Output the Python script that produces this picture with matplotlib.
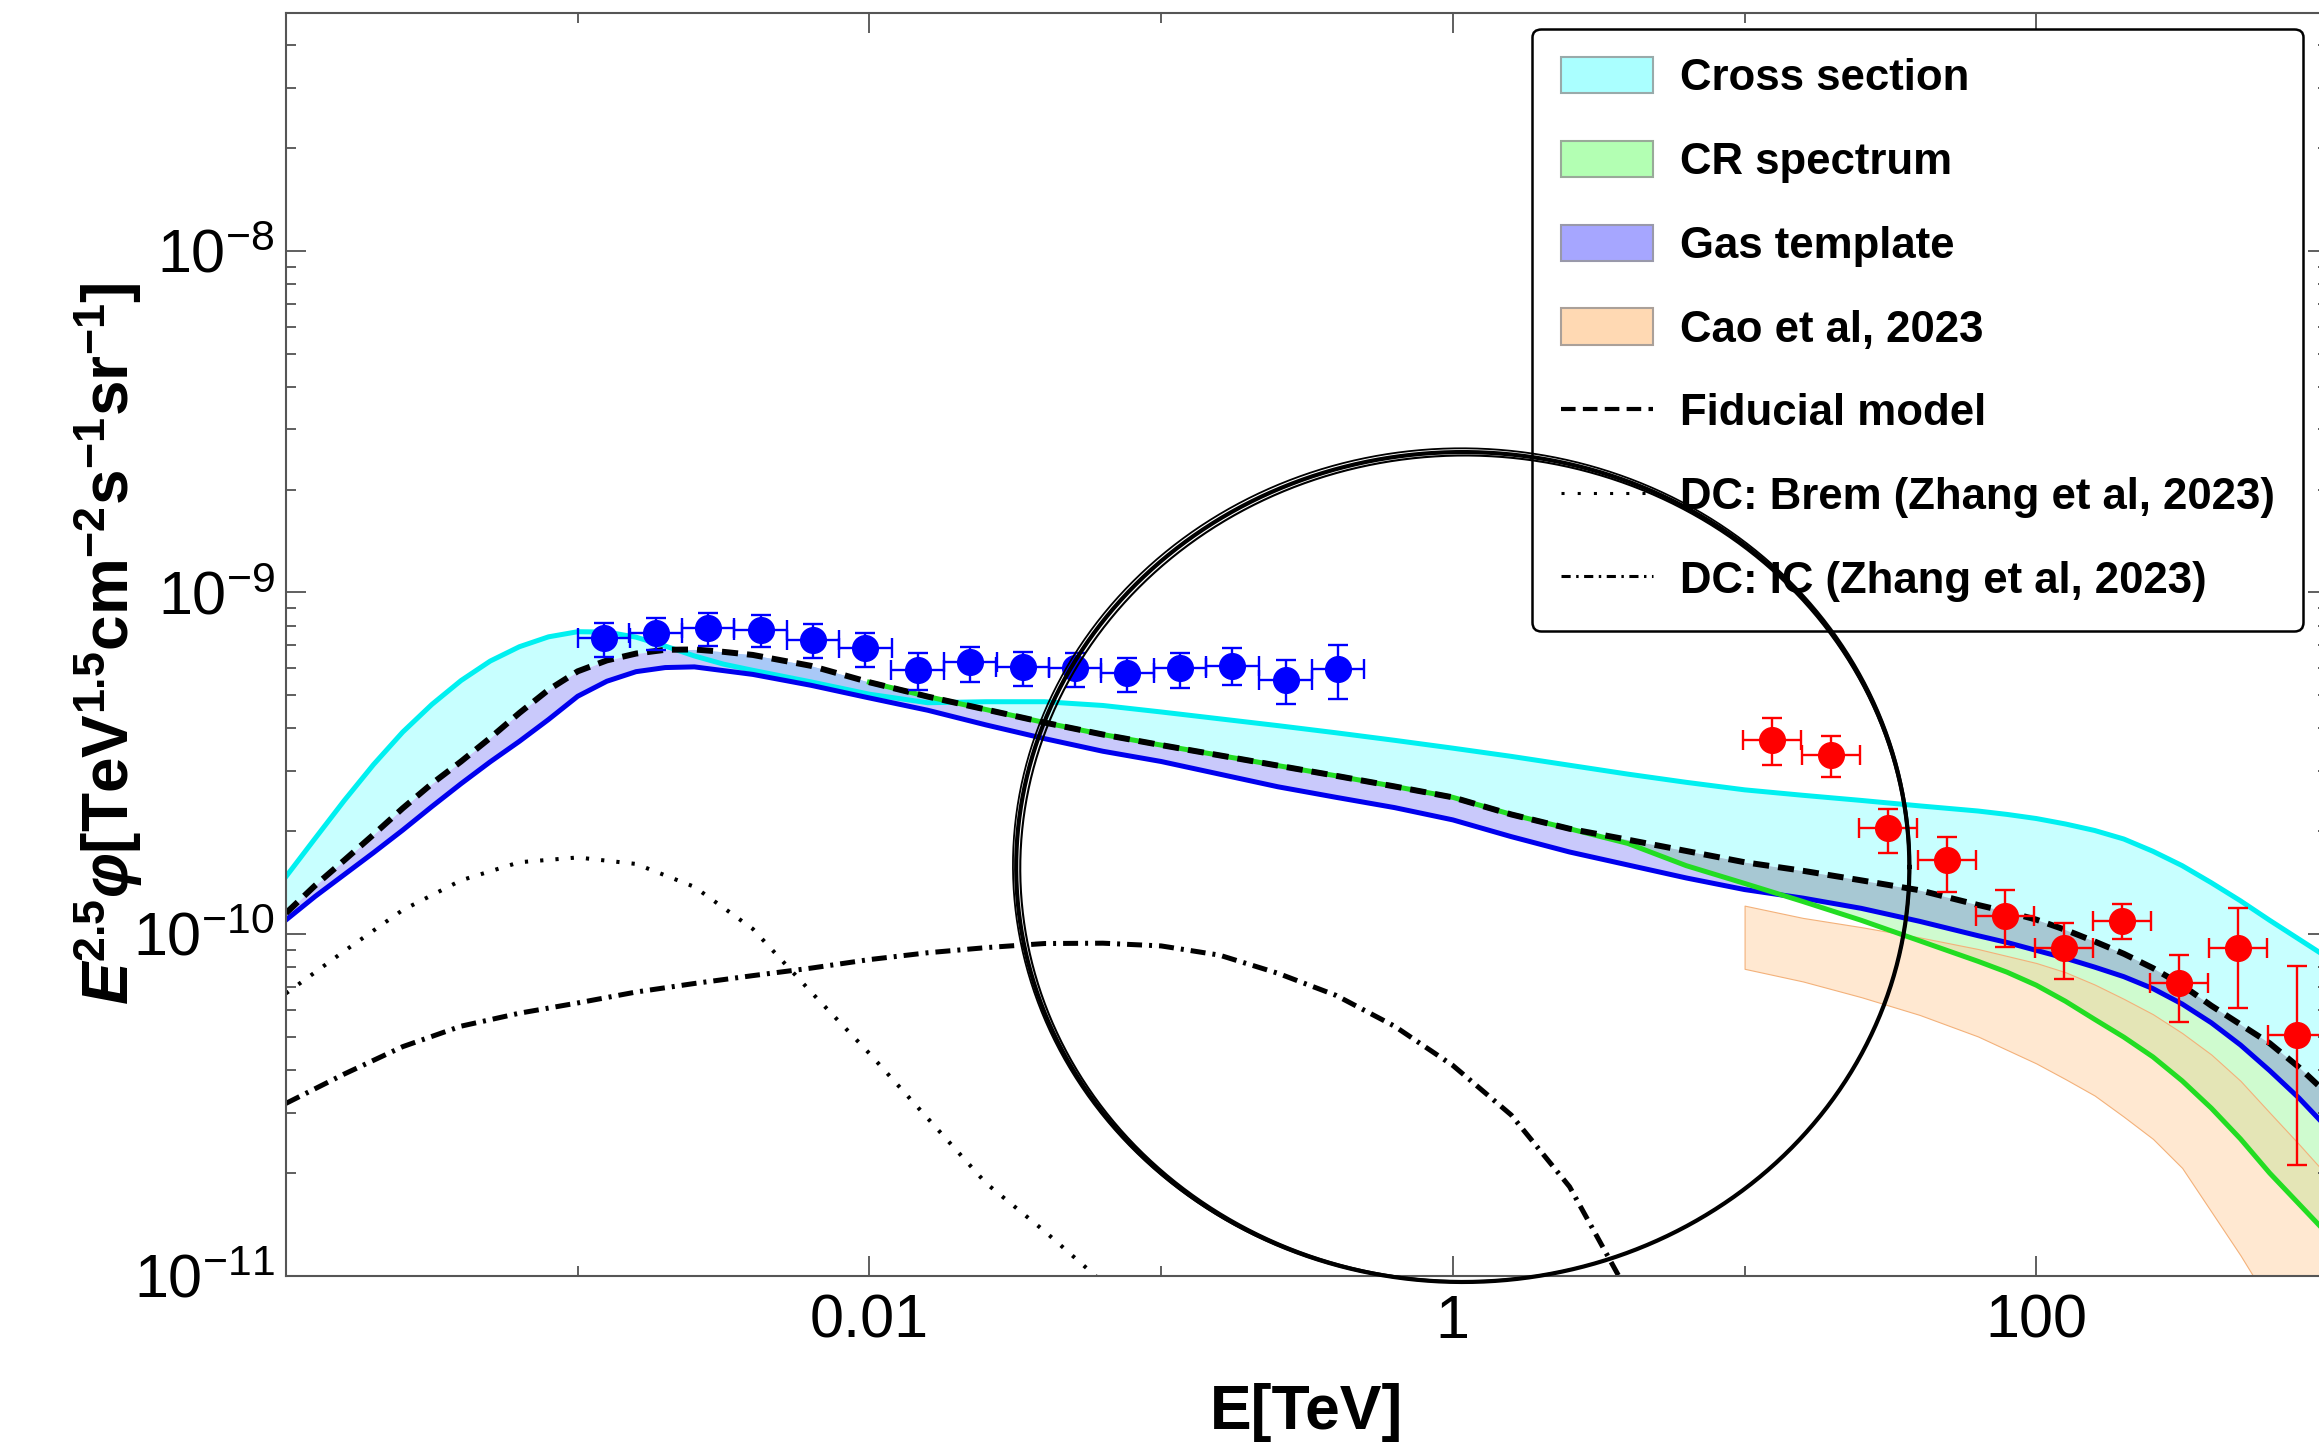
import numpy as np
import matplotlib
matplotlib.use("Agg")
import matplotlib.pyplot as plt
from matplotlib.patches import Patch
from matplotlib.lines import Line2D
from matplotlib.ticker import FixedLocator, FixedFormatter, NullFormatter

plt.rcParams['font.family'] = ['Liberation Sans', 'DejaVu Sans']
plt.rcParams['mathtext.fontset'] = 'custom'
plt.rcParams['mathtext.rm'] = 'Liberation Sans'
plt.rcParams['mathtext.it'] = 'Liberation Sans:italic'
plt.rcParams['mathtext.bf'] = 'Liberation Sans:bold'
plt.rcParams['mathtext.bfit'] = 'Liberation Sans:italic:bold'

# --- data, all as log10 values (E in TeV, flux in TeV^1.5 cm^-2 s^-1 sr^-1) ---
logE = [-4.0, -3.9, -3.8, -3.7, -3.6, -3.5, -3.4, -3.3, -3.2, -3.1, -3.0, -2.9, -2.8,
        -2.7, -2.6, -2.5, -2.4,
        -2.2, -2.0, -1.8, -1.6, -1.4, -1.2, -1.0, -0.8, -0.6, -0.4, -0.2, 0.0, 0.2,
        0.4, 0.6, 0.8, 1.0, 1.2, 1.4, 1.6,
        1.8, 1.9, 2.0, 2.1, 2.2, 2.3, 2.4, 2.5, 2.6, 2.7, 2.8, 2.9, 3.0]

# upper edge of the cross-section band (cyan line)
xsec_up = [-9.832, -9.720, -9.609, -9.504, -9.409, -9.328, -9.258, -9.201, -9.159, -9.130,
           -9.115, -9.116, -9.131, -9.157, -9.186, -9.210, -9.228,
           -9.262, -9.298, -9.323, -9.320, -9.320, -9.331, -9.350, -9.370, -9.390, -9.411,
           -9.433, -9.456, -9.480, -9.506, -9.532, -9.556, -9.578, -9.594, -9.609, -9.625,
           -9.640, -9.650, -9.662, -9.678, -9.697, -9.722, -9.758, -9.800, -9.850, -9.903,
           -9.960, -10.015, -10.07]
# lower edge of the gas template band (blue line)
gas_lo = [-9.959, -9.890, -9.826, -9.762, -9.696, -9.627, -9.560, -9.496, -9.436, -9.372,
          -9.304, -9.260, -9.232, -9.220, -9.218, -9.229, -9.240,
          -9.272, -9.309, -9.345, -9.388, -9.428, -9.465, -9.495, -9.532, -9.569, -9.600,
          -9.630, -9.666, -9.715, -9.760, -9.798, -9.836, -9.870, -9.895, -9.925, -9.963,
          -10.005, -10.025, -10.048, -10.071, -10.097, -10.125, -10.160, -10.205, -10.260,
          -10.325, -10.40, -10.48, -10.57]
# fiducial model (dashed)
fiducial = [-9.939, -9.858, -9.784, -9.709, -9.632, -9.560, -9.495, -9.426, -9.353, -9.285,
            -9.231, -9.199, -9.179, -9.168, -9.167, -9.174, -9.183,
            -9.215, -9.263, -9.305, -9.343, -9.381, -9.416, -9.447, -9.477, -9.507, -9.537,
            -9.568, -9.600, -9.650, -9.692, -9.724, -9.757, -9.790, -9.815, -9.843, -9.872,
            -9.915, -9.935, -9.958, -9.988, -10.022, -10.058, -10.100, -10.150, -10.210,
            -10.265, -10.32, -10.39, -10.47]
# lower edge of the CR spectrum band (green line), from E = 0.01 TeV on
cr_start = -2.0
cr_lo = [-9.263, -9.305, -9.343, -9.381, -9.416, -9.447, -9.477, -9.507, -9.537, -9.568,
         -9.600, -9.650, -9.692, -9.735, -9.800, -9.852, -9.905, -9.960, -10.020,
         -10.080, -10.112, -10.150, -10.197, -10.250, -10.302, -10.360, -10.430, -10.510,
         -10.600, -10.70, -10.79, -10.88]

# Cao et al 2023 band
cao_logE = [1.0, 1.2, 1.4, 1.6, 1.8, 2.0, 2.1, 2.2, 2.3, 2.4, 2.5, 2.6, 2.7, 2.8, 2.9, 3.0]
cao_hi = [-9.917, -9.953, -9.980, -10.010, -10.044, -10.085, -10.112, -10.148, -10.190,
          -10.235, -10.290, -10.353, -10.430, -10.523, -10.615, -10.71]
cao_lo = [-10.102, -10.139, -10.185, -10.237, -10.300, -10.379, -10.425, -10.473, -10.535,
          -10.600, -10.685, -10.813, -10.941, -11.08, -11.25, -11.45]

# Zhang et al 2023 bremsstrahlung (dotted) and IC (dash-dot)
brem_logE = [-4.0, -3.8, -3.6, -3.4, -3.2, -3.0, -2.8, -2.6, -2.4, -2.2, -2.0, -1.8, -1.6, -1.4, -1.2]
brem = [-10.174, -10.05, -9.930, -9.843, -9.790, -9.776, -9.795, -9.862, -9.985, -10.17,
        -10.35, -10.54, -10.73, -10.87, -11.02]
ic_logE = [-4.0, -3.8, -3.6, -3.4, -3.2, -3.0, -2.8, -2.6, -2.4, -2.2, -2.0, -1.8,
           -1.6, -1.4, -1.2, -1.0, -0.8, -0.6, -0.4, -0.2, 0.0, 0.2, 0.4, 0.6]
ic = [-10.496, -10.41, -10.330, -10.270, -10.232, -10.202, -10.170, -10.145, -10.122, -10.100,
      -10.075, -10.055, -10.040, -10.028, -10.027, -10.035, -10.062, -10.115, -10.18, -10.27,
      -10.385, -10.53, -10.74, -11.05]

# blue data points
blue_logE = [-2.910, -2.733, -2.553, -2.373, -2.194, -2.014, -1.835, -1.654, -1.475, -1.295,
             -1.116, -0.935, -0.756, -0.573, -0.393]
blue_y = [-9.134, -9.118, -9.105, -9.110, -9.139, -9.163, -9.227, -9.203, -9.219, -9.222,
          -9.237, -9.222, -9.215, -9.256, -9.225]
blue_hi = [-9.090, -9.076, -9.061, -9.066, -9.092, -9.118, -9.178, -9.159, -9.175, -9.178,
           -9.193, -9.178, -9.163, -9.198, -9.154]
blue_lo = [-9.188, -9.168, -9.157, -9.160, -9.193, -9.219, -9.286, -9.261, -9.273, -9.276,
           -9.291, -9.281, -9.271, -9.327, -9.313]
blue_halfbin = 0.09

# red data points
red_logE = [1.093, 1.296, 1.492, 1.693, 1.892, 2.095, 2.294, 2.490, 2.692, 2.894]
red_y = [-9.432, -9.475, -9.691, -9.784, -9.946, -10.042, -9.963, -10.144, -10.042, -10.297]
red_hi = [-9.368, -9.420, -9.635, -9.716, -9.872, -9.969, -9.911, -10.062, -9.923, -10.094]
red_lo = [-9.504, -9.541, -9.764, -9.877, -10.039, -10.131, -10.015, -10.257, -10.218, -10.677]
red_halfbin = 0.1

legend_labels = ["Cross section", "CR spectrum", "Gas template", "Cao et al, 2023",
                 "Fiducial model", "DC: Brem (Zhang et al, 2023)", "DC: IC (Zhang et al, 2023)"]

# hand drawn circle (centre and half axes in decades)
circ_c = (0.034, -9.804)
circ_r = (1.531, 1.215)


def p10(v):
    return 10.0 ** np.asarray(v, dtype=float)


E = p10(logE)
up = p10(xsec_up)
gl = p10(gas_lo)
fid = p10(fiducial)
i0 = logE.index(cr_start)
Ec = E[i0:]
cr = p10(cr_lo)
fid_c = fid[i0:]
gl_c = gl[i0:]

fig = plt.figure(figsize=(23.19, 14.47), dpi=100)
ax = fig.add_axes([286 / 2319, 1 - 1275.5 / 1447, (2328 - 286) / 2319, (1275.5 - 12.5) / 1447])
ax.set_xscale('log')
ax.set_yscale('log')

# bands
ax.fill_between(E, up, fid, color='#c8ffff', lw=0, zorder=1)
ax.fill_between(E, fid, gl, color='#c9c9fb', lw=0, zorder=1.1)
ax.fill_between(E, up, fid, where=up < fid, interpolate=True, color='#a9c9f7', lw=0, zorder=1.2)
ax.fill_between(Ec, fid_c, np.maximum(cr, gl_c), where=cr < fid_c, interpolate=True,
                color='#a7c8d3', lw=0, zorder=1.3)
ax.fill_between(Ec, gl_c, cr, where=cr < gl_c, interpolate=True, color='#cffbcf', lw=0, zorder=1.3)
ax.fill_between(p10(cao_logE), p10(cao_hi), p10(cao_lo), facecolor=(1.0, 0.8, 0.6, 0.45),
                edgecolor='#f3b17a', lw=0.8, zorder=1.4)

# model lines
ax.plot(E, up, color='#00f0f0', lw=3.6, zorder=2)
ax.plot(E, gl, color='#0000ee', lw=3.6, zorder=2.1)
ax.plot(Ec, cr, color='#22dd22', lw=3.6, zorder=2.2)
ax.plot(E, fid, color='black', lw=4.3, ls=(0, (2.7, 1.5)), zorder=2.3)
ax.plot(p10(brem_logE), p10(brem), color='black', lw=2.9, ls=(0, (0.8, 3.0)), zorder=2.3)
ax.plot(p10(ic_logE), p10(ic), color='black', lw=3.6, ls=(0, (3.0, 1.4, 0.6, 1.4)), zorder=2.3)

# data points
for lx, ly, lh, ll, hb, col in [(blue_logE, blue_y, blue_hi, blue_lo, blue_halfbin, '#0000ff'),
                                 (red_logE, red_y, red_hi, red_lo, red_halfbin, '#ff0000')]:
    lx = np.asarray(lx)
    x, y = p10(lx), p10(ly)
    xerr = [x - p10(lx - hb), p10(lx + hb) - x]
    yerr = [y - p10(ll), p10(lh) - y]
    ax.errorbar(x, y, xerr=xerr, yerr=yerr, fmt='o', color=col, ms=18.5, elinewidth=1.7,
                capsize=7, capthick=1.7, zorder=4)

ax.set_xlim(1e-4, 1e3)
ax.set_ylim(1e-11, 10 ** -7.302)

# ticks
ax.xaxis.set_major_locator(FixedLocator([1e-2, 1, 1e2]))
ax.xaxis.set_major_formatter(FixedFormatter(['0.01', '1', '100']))
ax.xaxis.set_minor_locator(FixedLocator([1e-4, 1e-3, 1e-1, 1e1, 1e3]))
ax.xaxis.set_minor_formatter(NullFormatter())
ydec = [1e-11, 1e-10, 1e-9, 1e-8]
ax.yaxis.set_major_locator(FixedLocator(ydec))
ax.yaxis.set_major_formatter(FixedFormatter([r'$\mathregular{10^{-11}}$', r'$\mathregular{10^{-10}}$',
                                             r'$\mathregular{10^{-9}}$', r'$\mathregular{10^{-8}}$']))
ax.yaxis.set_minor_locator(FixedLocator([k * d for d in ydec for k in range(2, 10)]))
ax.yaxis.set_minor_formatter(NullFormatter())
ax.tick_params(which='both', direction='in', top=True, right=True, color='#444444', width=1.2,
               labelsize=44, labelcolor='black')
ax.tick_params(which='major', length=14.4)
ax.tick_params(which='minor', length=7.2)
ax.tick_params(axis='x', which='both', pad=13)
ax.tick_params(axis='y', which='both', pad=8)
for s in ax.spines.values():
    s.set_color('#555555')
    s.set_linewidth(1.5)

ax.set_xlabel('E[TeV]', fontsize=45, fontweight='bold', labelpad=23)
ax.set_ylabel(r'$\mathbfit{E}^{\mathbf{2.5}}\mathbfit{φ}\mathbf{[TeV^{1.5}cm^{-2}s^{-1}sr^{-1}]}$',
              fontsize=46)
ax.yaxis.set_label_coords(-0.069, 0.5)

# legend
handles = [Patch(facecolor='#aaffff', edgecolor='#99aaaa', lw=1.5),
           Patch(facecolor='#b3ffb3', edgecolor='#99aa99', lw=1.5),
           Patch(facecolor='#a6a6ff', edgecolor='#9999aa', lw=1.5),
           Patch(facecolor='#ffd9b3', edgecolor='#aaa099', lw=1.5),
           Line2D([], [], color='black', lw=3.0, ls=(0, (3.5, 1.75))),
           Line2D([], [], color='black', lw=2.2, ls=(0, (1.0, 4.3))),
           Line2D([], [], color='black', lw=2.2, ls=(0, (3.0, 1.8, 0.8, 1.8)))]
leg = ax.legend(handles, legend_labels, loc='upper right',
                bbox_to_anchor=(2303 / 2319, 1 - 28.5 / 1447), bbox_transform=fig.transFigure,
                borderaxespad=0, prop={'weight': 'bold', 'size': 31.5}, handlelength=2.1,
                handleheight=0.9, handletextpad=0.62, labelspacing=0.95, borderpad=0.65,
                fancybox=True, framealpha=1)
leg.get_frame().set_edgecolor('black')
leg.get_frame().set_linewidth(1.8)
leg.set_zorder(5)

# hand drawn circle on top
t = np.linspace(0, 2 * np.pi, 500)
for dr, dc, lw in [((0, 0), (0, 0), 3.0), ((-0.008, -0.006), (0.006, -0.004), 1.5),
                   ((0.007, 0.006), (-0.004, 0.005), 1.3)]:
    cx = circ_c[0] + dc[0]
    cy = circ_c[1] + dc[1]
    ax.plot(10 ** (cx + (circ_r[0] + dr[0]) * np.cos(t)), 10 ** (cy + (circ_r[1] + dr[1]) * np.sin(t)),
            color='black', lw=lw, clip_on=False, zorder=10)

fig.savefig('out.png', dpi=100)
